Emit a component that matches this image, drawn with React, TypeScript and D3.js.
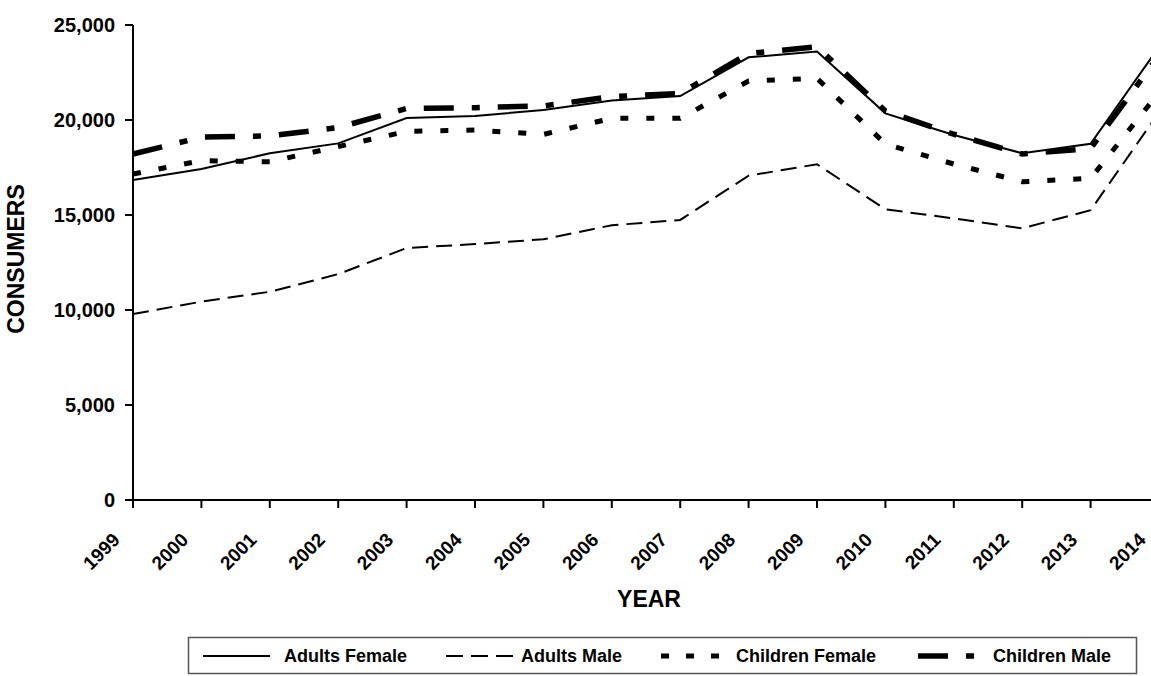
import React from "react";
import * as d3 from "d3";

const years = [1999, 2000, 2001, 2002, 2003, 2004, 2005, 2006, 2007, 2008, 2009, 2010, 2011, 2012, 2013, 2014];
const adultsFemale = [16840, 17420, 18250, 18770, 20100, 20210, 20530, 21020, 21260, 23300, 23600, 20350, 19210, 18250, 18750, 23850];
const adultsMale = [9790, 10440, 10960, 11890, 13260, 13470, 13720, 14460, 14740, 17070, 17670, 15300, 14820, 14300, 15250, 20400];
const childrenFemale = [17160, 17860, 17800, 18600, 19400, 19470, 19240, 20090, 20090, 22050, 22190, 18740, 17680, 16750, 16930, 21450];
const childrenMale = [18210, 19100, 19160, 19600, 20610, 20650, 20740, 21230, 21400, 23500, 23860, 20470, 19250, 18210, 18500, 23400];
const yTicks = [0, 5000, 10000, 15000, 20000, 25000];
const seriesNames = ["Adults Female", "Adults Male", "Children Female", "Children Male"];

const W = 1151;
const H = 676;
const FONT = "'Liberation Sans', Arial, Helvetica, sans-serif";

const styles = [
  { width: 2, dash: "none" },
  { width: 2, dash: "16,8" },
  { width: 5, dash: "8,18" },
  { width: 5.5, dash: "30,18,8,18" },
];

export default function App() {
  const x = d3.scaleLinear().domain([1999, 2014]).range([133, 1159]);
  const y = d3.scaleLinear().domain([0, 25000]).range([500, 25]);
  const fmt = d3.format(",");
  const seriesData = [adultsFemale, adultsMale, childrenFemale, childrenMale];
  const line = d3
    .line<number>()
    .x((_, i) => x(years[i]))
    .y((d) => y(d));

  const legendItems = [
    { lx: 203, tx: 284 },
    { lx: 446, tx: 521 },
    { lx: 661, tx: 736 },
    { lx: 918, tx: 993 },
  ];

  return (
    <svg
      width={W}
      height={H}
      style={{ position: "absolute", left: 0, top: 0, overflow: "hidden", background: "#fff" }}
      fontFamily={FONT}
      fontWeight="bold"
    >
      <rect x={0} y={0} width={W} height={H} fill="#fff" />
      {/* series */}
      {seriesData.map((s, i) => (
        <path
          key={i}
          d={line(s) || ""}
          fill="none"
          stroke="#000"
          strokeWidth={styles[i].width}
          strokeDasharray={styles[i].dash}
          strokeLinejoin="miter"
        />
      ))}
      {/* y axis */}
      <line x1={133} x2={133} y1={y(25000)} y2={y(0)} stroke="#000" strokeWidth={2} />
      {yTicks.map((t) => (
        <g key={t}>
          <line x1={125} x2={133} y1={y(t)} y2={y(t)} stroke="#000" strokeWidth={2} />
          <text x={115} y={y(t)} dy="0.36em" textAnchor="end" fontSize={20}>
            {fmt(t)}
          </text>
        </g>
      ))}
      {/* x axis */}
      <line x1={133} x2={W} y1={y(0)} y2={y(0)} stroke="#000" strokeWidth={2} />
      {years.map((yr) => (
        <g key={yr}>
          <line x1={x(yr)} x2={x(yr)} y1={500} y2={508} stroke="#000" strokeWidth={2} />
          <text
            transform={`translate(${x(yr) - 12},${541}) rotate(-45)`}
            textAnchor="end"
            fontSize={19}
          >
            {yr}
          </text>
        </g>
      ))}
      {/* axis titles */}
      <text x={649} y={607} textAnchor="middle" fontSize={23}>
        YEAR
      </text>
      <text transform="translate(24,259) rotate(-90)" textAnchor="middle" fontSize={23}>
        CONSUMERS
      </text>
      {/* legend */}
      <rect x={188.5} y={637.5} width={948} height={36} fill="#fff" stroke="#555" strokeWidth={1.5} />
      {legendItems.map((it, i) => (
        <g key={i}>
          <line
            x1={it.lx}
            x2={it.lx + 67}
            y1={656}
            y2={656}
            stroke="#000"
            strokeWidth={styles[i].width}
            strokeDasharray={i === 1 ? "17,8" : i === 2 ? "8,17" : i === 3 ? "30,18,8,18" : "none"}
          />
          <text x={it.tx} y={662} fontSize={18}>
            {seriesNames[i]}
          </text>
        </g>
      ))}
    </svg>
  );
}
